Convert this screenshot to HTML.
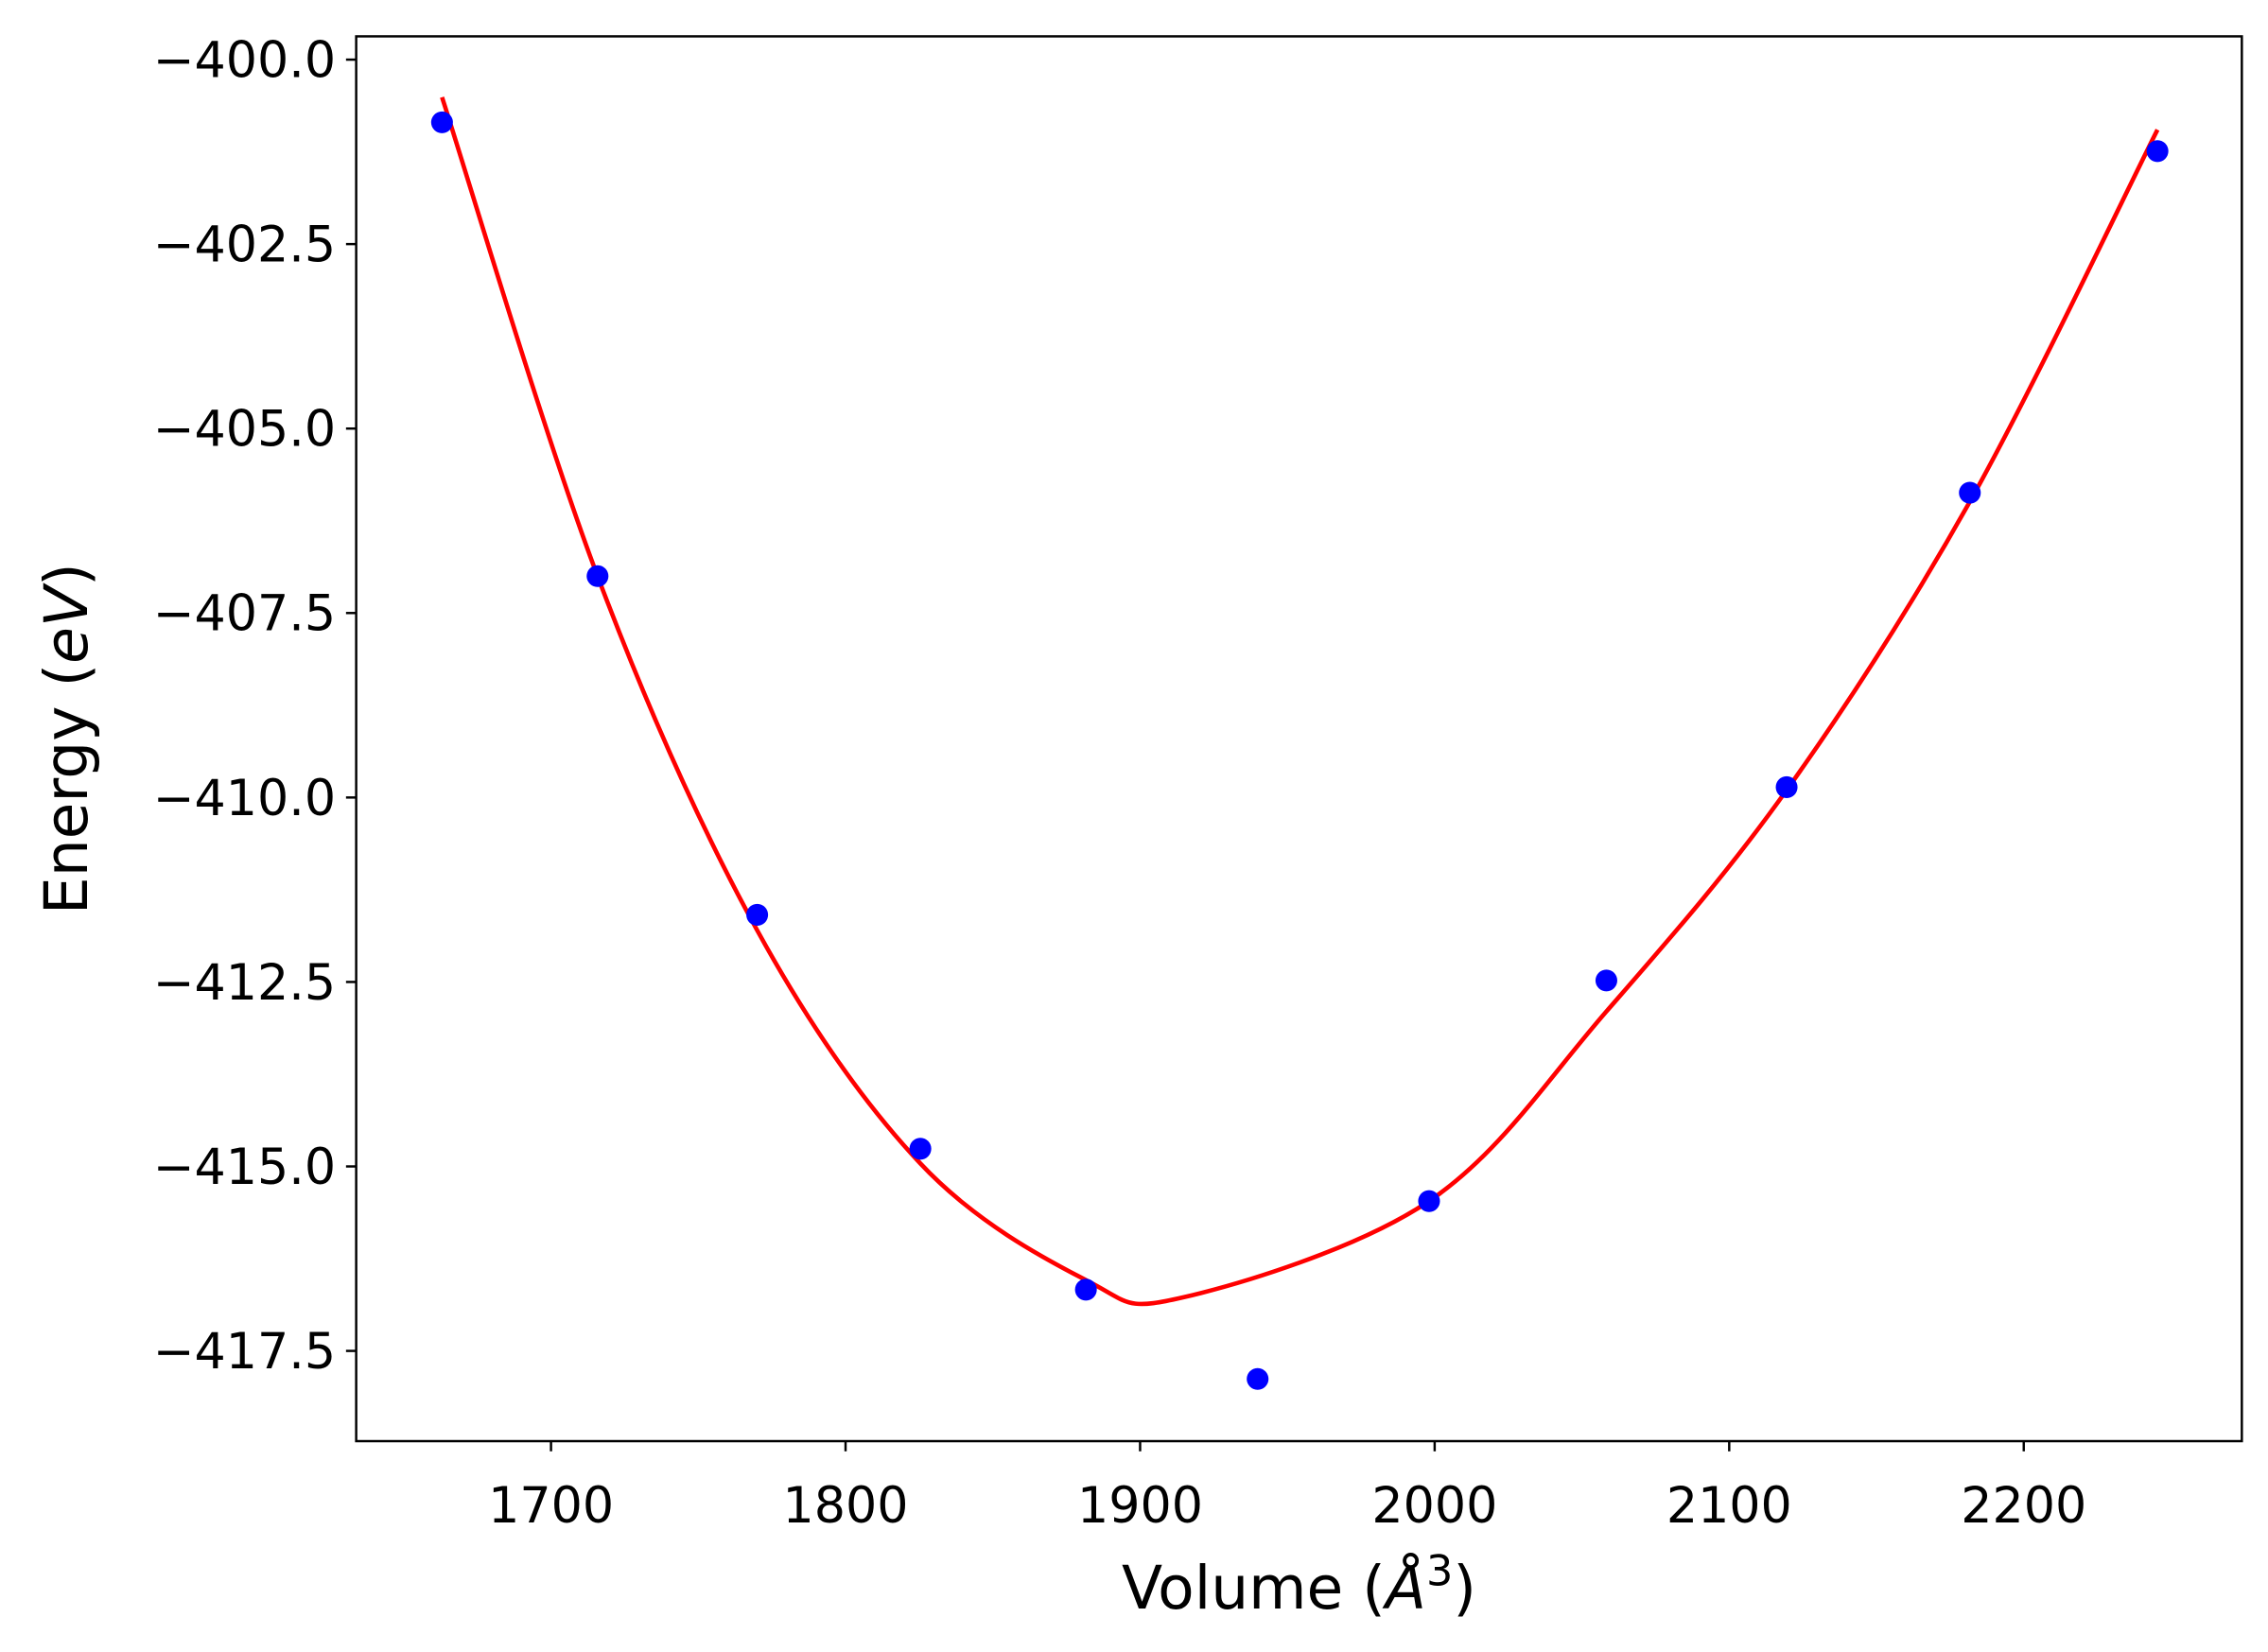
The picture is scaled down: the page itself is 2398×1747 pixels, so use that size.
<!DOCTYPE html>
<html><head><meta charset="utf-8"><style>html,body{margin:0;padding:0;background:#fff}svg{display:block}</style></head>
<body>
<svg id="chart" width="2398" height="1747" viewBox="0 0 1560 1136" preserveAspectRatio="none" xmlns="http://www.w3.org/2000/svg" font-family="'DejaVu Sans','Liberation Sans',sans-serif">
<rect x="0" y="0" width="1560" height="1136" fill="#fff"/>
<g id="plot"></g>
</svg>
<script>
const xTicks=[1700,1800,1900,2000,2100,2200];
const yTicks=[-400,-402.5,-405,-407.5,-410,-412.5,-415,-417.5];
const yTickLabels=["\u2212400.0","\u2212402.5","\u2212405.0","\u2212407.5","\u2212410.0","\u2212412.5","\u2212415.0","\u2212417.5"];
const volumes=[1663,1715.8,1770,1825.4,1881.6,1939.9,1998.1,2058.3,2119.5,2181.7,2245.4];
const energies=[-400.85,-407.0,-411.59,-414.76,-416.67,-417.88,-415.47,-412.48,-409.86,-405.87,-401.24];
const fitV=[1663,1715.8,1770,1825.4,1881.6,1914,1998.1,2058.3,2119.5,2181.7,2245.4];
const fitE=[-400.51,-407.0,-411.8,-414.96,-416.54,-416.78,-415.47,-412.9,-409.9,-405.99,-400.95];

const L=245,R=1542,T=25,B=991;
const xs=v=>379+(v-1700)*2.026;
const ys=e=>41+(-400-e)*50.74;
const NS="http://www.w3.org/2000/svg";
const g=document.getElementById('plot');
function mk(tag,attrs){const el=document.createElementNS(NS,tag);for(const k in attrs)el.setAttribute(k,attrs[k]);g.appendChild(el);return el;}

const pts=fitV.map((v,i)=>[xs(v),ys(fitE[i])]);
let d=`M${pts[0][0]},${pts[0][1]}`;
for(let i=0;i<pts.length-1;i++){
  const p0=pts[Math.max(0,i-1)],p1=pts[i],p2=pts[i+1],p3=pts[Math.min(pts.length-1,i+2)];
  const c1=[p1[0]+(p2[0]-p0[0])/6,p1[1]+(p2[1]-p0[1])/6];
  const c2=[p2[0]-(p3[0]-p1[0])/6,p2[1]-(p3[1]-p1[1])/6];
  d+=` C${c1[0]},${c1[1]} ${c2[0]},${c2[1]} ${p2[0]},${p2[1]}`;
}
const curve=mk('path',{d:d,fill:'none',stroke:'#ff0000','stroke-width':3});



volumes.forEach((v,i)=>{
  const c=mk('circle',{cx:xs(v),cy:ys(energies[i]),r:7.5,fill:'#0000ff'});
  
  
});

const frame=mk('rect',{x:L,y:T,width:R-L,height:B-T,fill:'none',stroke:'#000','stroke-width':1.6});



xTicks.forEach(v=>{
  const x=xs(v);
  const t=mk('line',{x1:x,y1:B,x2:x,y2:B+7,stroke:'#000','stroke-width':1.6});
  
  
  const lb=mk('text',{x:x,y:B+56,'font-size':34,'text-anchor':'middle',fill:'#000'});
  lb.textContent=String(v);
  
  
});
yTicks.forEach((e,i)=>{
  const y=ys(e);
  const t=mk('line',{x1:L-7,y1:y,x2:L,y2:y,stroke:'#000','stroke-width':1.6});
  
  
  const lb=mk('text',{x:L-14,y:y+12,'font-size':34,'text-anchor':'end',fill:'#000'});
  lb.textContent=yTickLabels[i];
  
  
});
const xt=mk('text',{x:(L+R)/2,y:1106,'font-size':41,'text-anchor':'middle',fill:'#000'});
xt.innerHTML='Volume (<tspan font-style="italic">Å</tspan><tspan font-size="29" dy="-16">3</tspan><tspan dy="16">)</tspan>';


const yt=mk('text',{x:60,y:(T+B)/2,'font-size':41,'text-anchor':'middle',fill:'#000',transform:`rotate(-90 60 ${(T+B)/2})`});
yt.innerHTML='Energy (<tspan font-style="italic">eV</tspan>)';


</script>
</body></html>
